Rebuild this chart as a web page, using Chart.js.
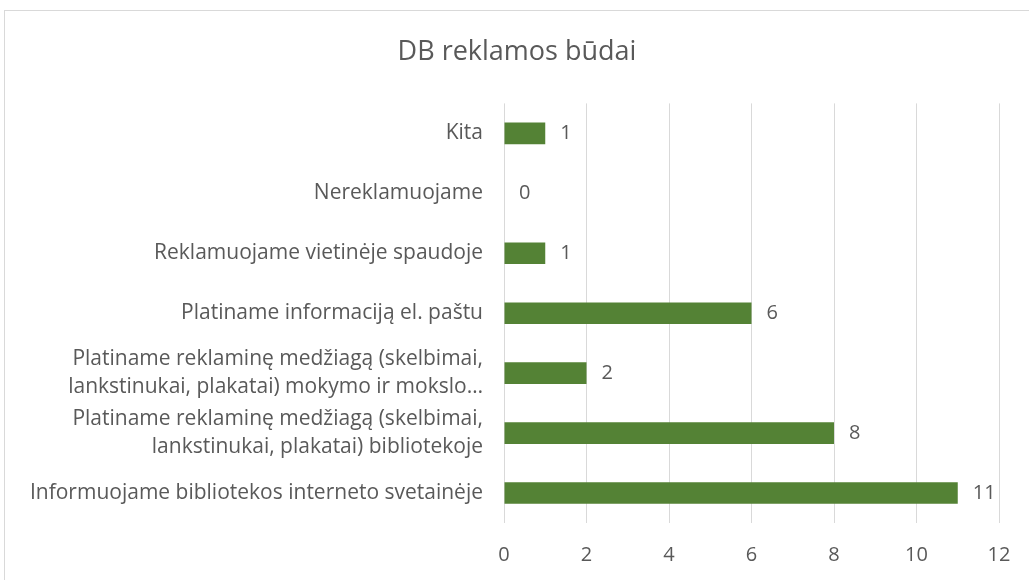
<!DOCTYPE html>
<html>
<head>
<meta charset="utf-8">
<script src="https://cdn.jsdelivr.net/npm/chart.js@4.4.1/dist/chart.umd.min.js"></script>
<style>
  html, body { margin: 0; padding: 0; background: #fff; overflow: hidden; }
  #wrap { position: relative; width: 1029px; height: 580px; }
  #frame { position: absolute; left: 4px; top: 10px; width: 1040px; height: 600px; border: 1px solid #d9d9d9; }
  canvas { position: absolute; left: 0; top: 0; }
</style>
</head>
<body>
<div id="wrap">
  <div id="frame"></div>
  <canvas id="chart" width="1029" height="580"></canvas>
</div>
<script>
const title = 'DB reklamos būdai'
const categories = [
  'Kita',
  'Nereklamuojame',
  'Reklamuojame vietinėje spaudoje',
  'Platiname informaciją el. paštu',
  ['Platiname reklaminę medžiagą (skelbimai,', 'lankstinukai, plakatai) mokymo ir mokslo…'],
  ['Platiname reklaminę medžiagą (skelbimai,', 'lankstinukai, plakatai) bibliotekoje'],
  'Informuojame bibliotekos interneto svetainėje',
]
const values = [1, 0, 1, 6, 2, 8, 11]
const xTicks = [0, 2, 4, 6, 8, 10, 12]

const textColor = '#595959'

// value labels to the right of each bar
const valueLabels = {
  id: 'valueLabels',
  afterDatasetsDraw(chart) {
    const ctx = chart.ctx
    const meta = chart.getDatasetMeta(0)
    ctx.save()
    ctx.font = '20px "Open Sans"'
    ctx.fillStyle = textColor
    ctx.textAlign = 'left'
    ctx.textBaseline = 'middle'
    meta.data.forEach((bar, i) => {
      ctx.fillText(String(values[i]), bar.x + 15, bar.y)
    })
    ctx.restore()
  },
}

new Chart(document.getElementById('chart'), {
  type: 'bar',
  plugins: [valueLabels],
  data: {
    labels: categories,
    datasets: [
      {
        data: values,
        backgroundColor: '#548235',
        barPercentage: 0.36,
        categoryPercentage: 1,
      },
    ],
  },
  options: {
    indexAxis: 'y',
    responsive: false,
    animation: false,
    layout: { padding: { left: 5, right: 0, top: 0, bottom: 0 } },
    plugins: {
      legend: { display: false },
      tooltip: { enabled: false },
      title: {
        display: true,
        text: title,
        color: textColor,
        font: { family: 'Open Sans', size: 27, weight: 'normal' },
        padding: { top: 36, bottom: 35 },
      },
    },
    scales: {
      x: {
        min: 0,
        max: 12,
        afterBuildTicks: (scale) => {
          scale.ticks = xTicks.map((v) => ({ value: v }))
        },
        afterFit: (scale) => {
          scale.height = 57
          scale.paddingRight = 30
        },
        grid: { color: '#d9d9d9', drawTicks: false },
        border: { display: false },
        ticks: {
          color: textColor,
          padding: 20,
          font: { family: 'Open Sans', size: 20 },
        },
      },
      y: {
        afterFit: (scale) => {
          scale.width = 499
        },
        grid: { display: false, drawTicks: false },
        border: { display: false },
        ticks: {
          color: textColor,
          padding: 21,
          font: { family: 'Open Sans', size: 21, lineHeight: 1.3 },
        },
      },
    },
  },
})
</script>
</body>
</html>
